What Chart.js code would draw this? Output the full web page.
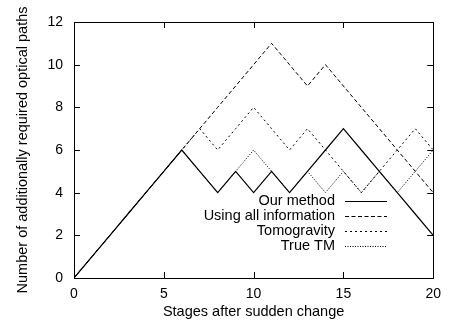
<!DOCTYPE html>
<html>
<head>
<meta charset="utf-8">
<script src="https://cdn.jsdelivr.net/npm/chart.js@4/dist/chart.umd.min.js"></script>
<style>
  html, body { margin: 0; padding: 0; background: #fff; }
  #pathsCanvas { display: block; }
</style>
</head>
<body>
<canvas id="pathsCanvas" width="449" height="322"></canvas>
<script>
// Data
const stages = [0, 1, 2, 3, 4, 5, 6, 7, 8, 9, 10, 11, 12, 13, 14, 15, 16, 17, 18, 19, 20];
const ourMethod   = [0, 1, 2, 3, 4, 5, 6, 5, 4, 5, 4, 5, 4, 5, 6, 7, 6, 5, 4, 3, 2];
const allInfo     = [0, 1, 2, 3, 4, 5, 6, 7, 8, 9, 10, 11, 10, 9, 10, 9, 8, 7, 6, 5, 4];
const tomogravity = [0, 1, 2, 3, 4, 5, 6, 7, 6, 7, 8, 7, 6, 7, 6, 5, 4, 5, 6, 7, 6];
const trueTM      = [0, 1, 2, 3, 4, 5, 6, 5, 4, 5, 6, 5, 4, 5, 4, 5, 4, 5, 4, 5, 6];
const seriesNames = ['Our method', 'Using all information', 'Tomogravity', 'True TM'];
const xTicks = [0, 5, 10, 15, 20];
const yTicks = [0, 2, 4, 6, 8, 10, 12];

const FONT = 'Liberation Sans, Arial, Helvetica, sans-serif';
const dashes = [[], [4, 2.5], [2, 3], [1, 1.5]];

function toPoints(vals) {
  return stages.map((s, i) => ({ x: s, y: vals[i] }));
}

function makeSet(label, vals, i) {
  return {
    label: label,
    data: toPoints(vals),
    borderColor: '#000',
    borderWidth: i === 0 ? 1.2 : 1,
    borderDash: dashes[i],
    pointRadius: 0,
    tension: 0,
    fill: false
  };
}

// gnuplot-like frame, inward ticks on all sides and the key
const framePlugin = {
  id: 'frame',
  afterDatasetsDraw(chart) {
    const ctx = chart.ctx;
    const a = chart.chartArea;
    const xs = chart.scales.x, ys = chart.scales.y;
    const tl = 6;
    ctx.save();
    ctx.strokeStyle = '#000';
    ctx.lineWidth = 1;
    ctx.setLineDash([]);
    ctx.strokeRect(Math.round(a.left) + 0.5, Math.round(a.top) + 0.5,
      Math.round(a.right - a.left), Math.round(a.bottom - a.top));
    ctx.beginPath();
    xTicks.forEach(v => {
      const px = Math.round(xs.getPixelForValue(v)) + 0.5;
      ctx.moveTo(px, a.bottom); ctx.lineTo(px, a.bottom - tl);
      ctx.moveTo(px, a.top); ctx.lineTo(px, a.top + tl);
    });
    yTicks.forEach(v => {
      const py = Math.round(ys.getPixelForValue(v)) + 0.5;
      ctx.moveTo(a.left, py); ctx.lineTo(a.left + tl, py);
      ctx.moveTo(a.right, py); ctx.lineTo(a.right - tl, py);
    });
    ctx.stroke();

    // key
    ctx.font = '14.5px ' + FONT;
    ctx.fillStyle = '#000';
    ctx.textAlign = 'right';
    ctx.textBaseline = 'middle';
    chart.data.datasets.forEach((ds, i) => {
      const y = 201 + i * 15;
      ctx.fillText(ds.label, 335, y);
      ctx.beginPath();
      ctx.setLineDash(ds.borderDash);
      ctx.lineWidth = ds.borderWidth;
      ctx.moveTo(345, y + 0.5);
      ctx.lineTo(387, y + 0.5);
      ctx.stroke();
    });
    ctx.restore();
  }
};

Chart.defaults.color = '#000';
Chart.defaults.font.family = FONT;

const pathsCtx = document.getElementById('pathsCanvas').getContext('2d');
const pathsChart = new Chart(pathsCtx, {
  type: 'line',
  data: {
    datasets: [
      makeSet(seriesNames[0], ourMethod, 0),
      makeSet(seriesNames[1], allInfo, 1),
      makeSet(seriesNames[2], tomogravity, 2),
      makeSet(seriesNames[3], trueTM, 3)
    ]
  },
  options: {
    responsive: false,
    animation: false,
    devicePixelRatio: 1,
    layout: { padding: { top: 22, right: 13, left: 0, bottom: 0 } },
    plugins: {
      legend: { display: false },
      tooltip: { enabled: false }
    },
    scales: {
      x: {
        type: 'linear',
        min: 0,
        max: 20,
        afterFit: function(s) { s.height = 44; },
        afterBuildTicks: function(s) { s.ticks = xTicks.map(v => ({ value: v })); },
        grid: { display: false, drawTicks: false },
        border: { display: false },
        ticks: { padding: 8, font: { size: 14 }, maxRotation: 0 },
        title: {
          display: true,
          text: 'Stages after sudden change',
          font: { size: 14.5 },
          padding: { top: 0, bottom: 1 }
        }
      },
      y: {
        min: 0,
        max: 12,
        afterFit: function(s) { s.width = 74; },
        afterBuildTicks: function(s) { s.ticks = yTicks.map(v => ({ value: v })); },
        grid: { display: false, drawTicks: false },
        border: { display: false },
        ticks: { padding: 11, font: { size: 14 } },
        title: {
          display: true,
          text: 'Number of additionally required optical paths',
          font: { size: 14.5 },
          padding: { top: 14, bottom: 0 }
        }
      }
    }
  },
  plugins: [framePlugin]
});
</script>
</body>
</html>
